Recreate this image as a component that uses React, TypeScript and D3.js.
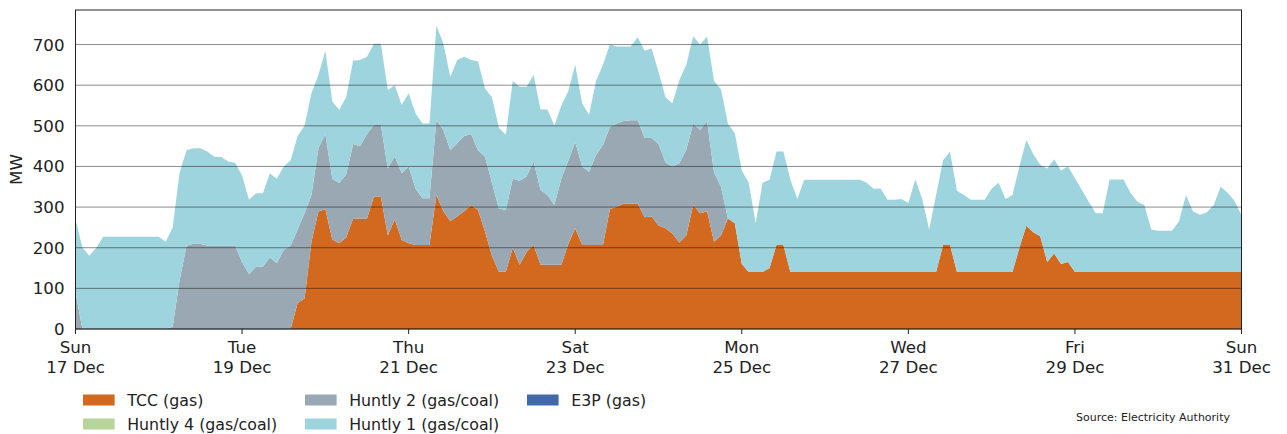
import React from "react";
import * as d3 from "d3";

// ---- data (2-hourly samples, MW) ----
const startDate = new Date(2023, 11, 17);
const endDate = new Date(2023, 11, 31);
const stepHours = 2;

const tccGas = [
  0, 0, 0, 0, 0, 0, 0, 0, 0, 0, 0, 0,
  0, 0, 0, 0, 0, 0, 0, 0, 0, 0, 0, 0,
  0, 0, 0, 0, 0, 0, 0, 0, 64, 75, 215, 289,
  295, 220, 211, 225, 272, 272, 272, 326, 326, 230, 270, 219,
  211, 207, 207, 207, 330, 290, 265, 277, 290, 305, 293, 240,
  180, 141, 141, 200, 158, 190, 207, 158, 158, 158, 158, 209,
  248, 207, 207, 207, 207, 295, 301, 309, 309, 309, 275, 277,
  255, 248, 235, 213, 230, 305, 285, 290, 215, 230, 272, 260,
  160, 140, 140, 140, 150, 207, 207, 140, 140, 140, 140, 140,
  140, 140, 140, 140, 140, 140, 140, 140, 140, 140, 140, 140,
  140, 140, 140, 140, 140, 207, 207, 140, 140, 140, 140, 140,
  140, 140, 140, 140, 200, 254, 238, 228, 165, 186, 160, 165,
  140, 140, 140, 140, 140, 140, 140, 140, 140, 140, 140, 140,
  140, 140, 140, 140, 140, 140, 140, 140, 140, 140, 140, 140,
  140,
];

const huntly2 = [
  90, 0, 0, 0, 0, 0, 0, 0, 0, 0, 0, 0,
  0, 0, 5, 120, 205, 210, 210, 205, 205, 205, 205, 205,
  165, 135, 153, 153, 176, 162, 195, 205, 181, 210, 115, 156,
  185, 150, 148, 155, 183, 178, 208, 176, 176, 165, 155, 164,
  189, 138, 115, 115, 184, 200, 175, 180, 185, 175, 147, 184,
  180, 156, 151, 170, 207, 185, 205, 184, 172, 147, 212, 205,
  212, 193, 180, 221, 246, 202, 205, 203, 205, 205, 195, 193,
  200, 162, 165, 195, 211, 200, 205, 222, 170, 120, 0, 0,
  0, 0, 0, 0, 0, 0, 0, 0, 0, 0, 0, 0,
  0, 0, 0, 0, 0, 0, 0, 0, 0, 0, 0, 0,
  0, 0, 0, 0, 0, 0, 0, 0, 0, 0, 0, 0,
  0, 0, 0, 0, 0, 0, 0, 0, 0, 0, 0, 0,
  0, 0, 0, 0, 0, 0, 0, 0, 0, 0, 0, 0,
  0, 0, 0, 0, 0, 0, 0, 0, 0, 0, 0, 0,
  0,
];

const huntly1 = [
  180, 200, 180, 200, 227, 227, 227, 227, 227, 227, 227, 227,
  227, 215, 245, 265, 235, 235, 235, 232, 219, 218, 207, 204,
  213, 183, 181, 181, 207, 208, 205, 210, 230, 215, 250, 180,
  205, 190, 180, 190, 205, 212, 190, 200, 200, 193, 175, 168,
  180, 185, 184, 184, 232, 213, 180, 205, 195, 182, 218, 168,
  210, 198, 186, 240, 231, 221, 213, 198, 210, 195, 180, 171,
  190, 155, 140, 182, 197, 203, 189, 183, 181, 204, 215, 220,
  178, 160, 155, 204, 209, 215, 210, 208, 225, 240, 233, 222,
  230, 220, 120, 220, 217, 230, 230, 227, 180, 227, 227, 227,
  227, 227, 227, 227, 227, 227, 220, 205, 206, 178, 178, 180,
  170, 228, 180, 105, 190, 208, 230, 200, 190, 178, 178, 178,
  205, 220, 180, 190, 200, 211, 192, 176, 230, 232, 230, 235,
  231, 202, 173, 145, 145, 228, 228, 228, 195, 173, 165, 105,
  102, 102, 102, 125, 190, 150, 141, 147, 165, 210, 195, 175,
  140,
];

// These stations did not run in this period (legend only)
const huntly4: number[] = [];
const e3p: number[] = [];

const seriesNames = [
  "TCC (gas)",
  "Huntly 4 (gas/coal)",
  "Huntly 2 (gas/coal)",
  "Huntly 1 (gas/coal)",
  "E3P (gas)",
];
const seriesData = [tccGas, huntly4, huntly2, huntly1, e3p];
const seriesColors = ["#d2691e", "#b7d59b", "#9aa8b4", "#9dd4dd", "#4169aa"];

const yTicks = [0, 100, 200, 300, 400, 500, 600, 700];
const yMax = 785;
const sourceText = "Source: Electricity Authority";

// ---- layout ----
const W = 1287;
const H = 434;
const M = { left: 75.5, right: 1241.5, top: 10, bottom: 329 };
const FONT = "DejaVu Sans, sans-serif";

export default function App() {
  const times = tccGas.map((_, i) => d3.timeHour.offset(startDate, i * stepHours));
  const rows = times.map((t, i) => {
    const r: any = { time: t };
    seriesNames.forEach((n, s) => {
      r[n] = seriesData[s][i] ?? 0;
    });
    return r;
  });

  const x = d3.scaleTime().domain([startDate, endDate]).range([M.left, M.right]);
  const y = d3.scaleLinear().domain([0, yMax]).range([M.bottom, M.top]);

  const stack = d3.stack<any>().keys(seriesNames);
  const layers = stack(rows);
  const area = d3
    .area<any>()
    .x((d) => x(d.data.time))
    .y0((d) => y(d[0]))
    .y1((d) => y(d[1]));

  const xTicks = d3.timeDay.every(2)!.range(startDate, d3.timeDay.offset(endDate, 1));
  const fmtDay = d3.timeFormat("%a");
  const fmtDate = d3.timeFormat("%-d %b");

  const legendF = 15.8;
  const colStep = 222;
  const legendItems = [
    { col: 0, row: 0, s: 0 },
    { col: 0, row: 1, s: 1 },
    { col: 1, row: 0, s: 2 },
    { col: 1, row: 1, s: 3 },
    { col: 2, row: 0, s: 4 },
  ];

  return (
    <div style={{ position: "absolute", left: 0, top: 0 }}>
      <svg width={W} height={H} style={{ display: "block", fontFamily: FONT }}>
        <rect x={0} y={0} width={W} height={H} fill="#fff" />
        <g>
          {layers.map((layer, i) => (
            <path key={i} d={area(layer as any) || ""} fill={seriesColors[i]} stroke="none" />
          ))}
        </g>
        {/* horizontal grid on top */}
        <g>
          {yTicks.map((t) => (
            <line
              key={t}
              x1={M.left}
              x2={M.right}
              y1={y(t)}
              y2={y(t)}
              stroke="#000"
              strokeOpacity={0.45}
              strokeWidth={1}
            />
          ))}
        </g>
        {/* frame */}
        <rect
          x={M.left}
          y={M.top}
          width={M.right - M.left}
          height={M.bottom - M.top}
          fill="none"
          stroke="#222"
          strokeWidth={1}
        />
        {/* y tick labels */}
        <g fontSize={16.67} fill="#222">
          {yTicks.map((t) => (
            <text key={t} x={64.5} y={y(t)} dy="0.36em" textAnchor="end">
              {t}
            </text>
          ))}
        </g>
        <text
          transform={`translate(22,${(M.top + M.bottom) / 2}) rotate(-90)`}
          textAnchor="middle"
          fontSize={16.67}
          fill="#222"
        >
          MW
        </text>
        {/* x ticks */}
        <g fontSize={16.67} fill="#222">
          {xTicks.map((t, i) => (
            <g key={i} transform={`translate(${x(t)},0)`}>
              <line y1={M.bottom} y2={M.bottom + 5} stroke="#222" strokeWidth={1} />
              <text y={353} textAnchor="middle">
                {fmtDay(t)}
              </text>
              <text y={373} textAnchor="middle">
                {fmtDate(t)}
              </text>
            </g>
          ))}
        </g>
        {/* legend */}
        <g fontSize={legendF} fill="#222">
          {legendItems.map((it) => {
            const lx = 83 + it.col * colStep;
            const ly = 400 + it.row * 24;
            return (
              <g key={it.s}>
                <rect x={lx} y={ly - 5.5} width={2 * legendF} height={11} fill={seriesColors[it.s]} />
                <text x={lx + 2.8 * legendF} y={ly} dy="0.36em">
                  {seriesNames[it.s]}
                </text>
              </g>
            );
          })}
        </g>
        <text x={1230} y={421} textAnchor="end" fontSize={11} fill="#222">
          {sourceText}
        </text>
      </svg>
    </div>
  );
}
